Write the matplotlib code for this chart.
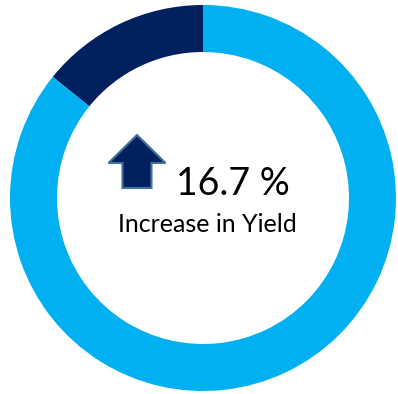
import matplotlib.pyplot as plt
from matplotlib.patches import FancyArrow

# donut shares
segments = ['Increase', 'Rest']
shares = [14.2, 85.8]
colors = ['#002060', '#00B0F0']
headline = '16.7 %'
caption = 'Increase in Yield'

W, H = 398, 394
fig = plt.figure(figsize=(W / 100, H / 100), dpi=100)
ax = fig.add_axes([0, 0, 1, 1])

cx, cy, r = 203, 196, 193
ax.pie(shares, colors=colors, startangle=90, counterclock=True,
       center=(cx, cy), radius=r, frame=True,
       wedgeprops=dict(width=r - 146, linewidth=0))
ax.set_xlim(0, W)
ax.set_ylim(0, H)
ax.set_aspect('equal')
ax.axis('off')

# up arrow
ax.add_patch(FancyArrow(137, 206, 0, 53, width=29, head_width=57, head_length=28,
                        length_includes_head=True, fc='#002060', ec='#41719C', lw=1.5))

ax.text(176, 199, headline, fontsize=27, family='Lato', ha='left', va='baseline', color='black')
ax.text(207, 162, caption, fontsize=18, family='Lato', ha='center', va='baseline', color='black')

fig.savefig('out.png', dpi=100)
